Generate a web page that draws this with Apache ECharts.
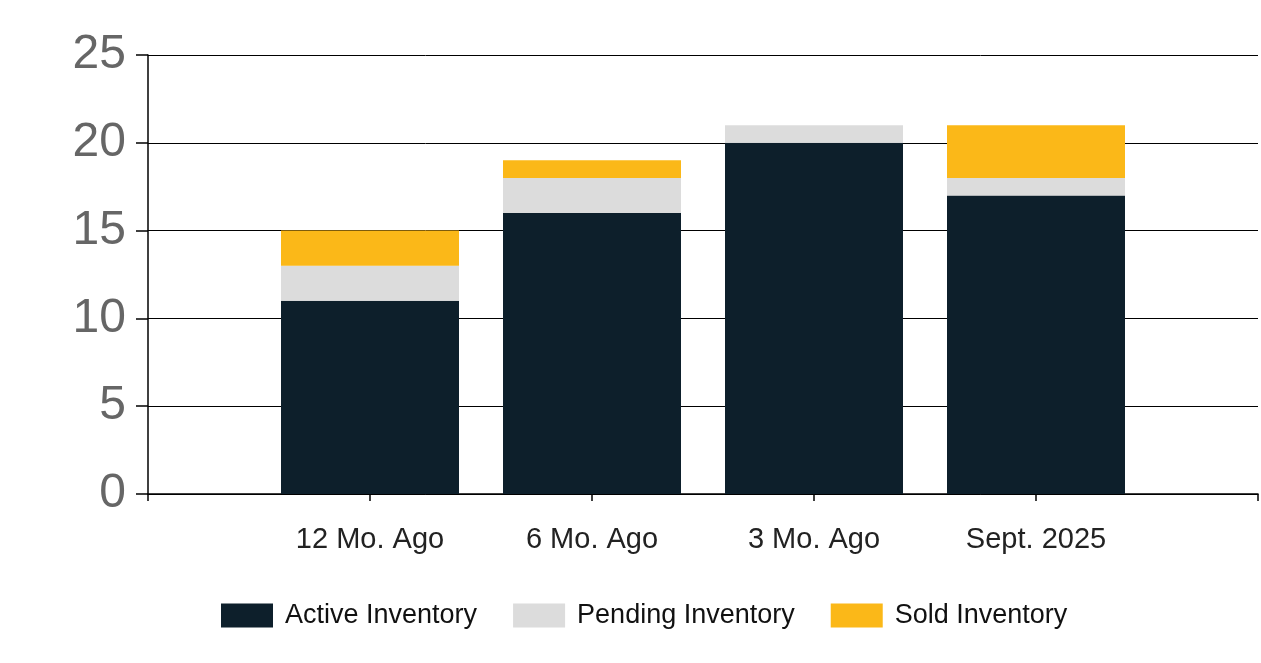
<!DOCTYPE html>
<html>
<head>
<meta charset="utf-8">
<script src="https://cdn.jsdelivr.net/npm/echarts@6/dist/echarts.min.js"></script>
<style>html,body{margin:0;padding:0;background:#fff;}#c{width:1261px;height:663px;}</style>
</head>
<body>
<div id="c"></div>
<script>
const categories = ['12 Mo. Ago', '6 Mo. Ago', '3 Mo. Ago', 'Sept. 2025'];
const activeInventory = [11, 16, 20, 17];
const pendingInventory = [2, 2, 1, 1];
const soldInventory = [2, 1, 0, 3];
const yTicks = [0, 5, 10, 15, 20, 25];

const pad = arr => ['-'].concat(arr, ['-']);
const chart = echarts.init(document.getElementById('c'));
const font = 'Liberation Sans, Arial, sans-serif';
const mk = (name, data, color) => ({
  name, type: 'bar', stack: 'inv', data: pad(data), barWidth: 178,
  itemStyle: { color }, emphasis: { disabled: true }
});
chart.setOption({
  animation: false,
  grid: { left: 148, right: 3, top: 55, bottom: 169, containLabel: false },
  legend: {
    top: 602, left: 221, padding: 0, itemWidth: 52, itemHeight: 24, itemGap: 36,
    icon: 'rect',
    textStyle: { fontFamily: font, fontSize: 27, color: '#111', padding: [0, 0, 0, 7] },
    data: ['Active Inventory', 'Pending Inventory', 'Sold Inventory']
  },
  xAxis: {
    type: 'category', boundaryGap: false,
    data: [''].concat(categories, ['']),
    axisLine: { lineStyle: { color: '#000', width: 1.5 } },
    axisTick: { show: true, length: 7, lineStyle: { color: '#000', width: 1.5 } },
    axisLabel: { fontFamily: font, fontSize: 29, color: '#222', margin: 31, interval: 0 },
    splitLine: { show: false }
  },
  yAxis: {
    type: 'value', min: yTicks[0], max: yTicks[yTicks.length - 1], interval: 5,
    axisLine: { show: true, lineStyle: { color: '#000', width: 1.5 } },
    axisTick: { show: true, length: 12, lineStyle: { color: '#000', width: 1.5 } },
    axisLabel: { fontFamily: font, fontSize: 48, color: '#666', margin: 22, verticalAlign: 'middle', padding: [0, 0, 4, 0] },
    splitLine: { lineStyle: { color: '#000', width: 1 } }
  },
  series: [
    mk('Active Inventory', activeInventory, '#0d1f2b'),
    mk('Pending Inventory', pendingInventory, '#dcdcdc'),
    mk('Sold Inventory', soldInventory, '#fbb818')
  ]
});
</script>
</body>
</html>
